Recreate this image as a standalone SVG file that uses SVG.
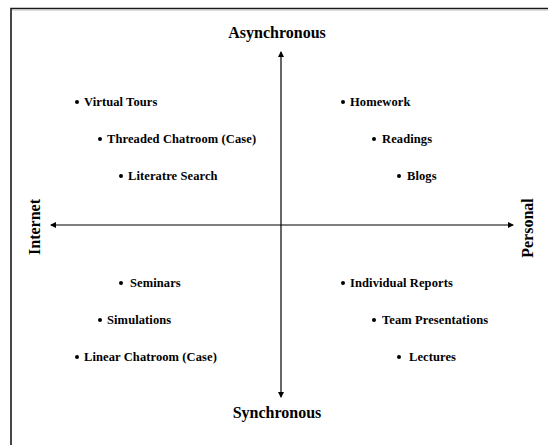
<svg xmlns="http://www.w3.org/2000/svg" width="548" height="445" viewBox="0 0 548 445">
<style>
.t{font-family:"Liberation Serif","Times New Roman",serif;font-weight:bold;fill:#000}
.item{font-size:12.5px;letter-spacing:0.1px}
.axis{font-size:16px}
.ln{stroke:#000;stroke-width:1.2;fill:none}
</style>
<defs>
<marker id="ah" markerWidth="6" markerHeight="6" refX="5" refY="3" orient="auto" markerUnits="userSpaceOnUse">
<path d="M0,0 L6,3 L0,6 Z" fill="#000"/>
</marker>
</defs>
<rect width="548" height="445" fill="#fff"/>
<g id="frame">
<path d="M11,445 V8.5 H548" stroke="#1a1a1a" stroke-width="1.6" fill="none"/>
<path d="M12,10 H548" stroke="#bbb" stroke-width="1" fill="none"/>
</g>
<g id="connectors">
<line class="ln" x1="281" y1="225" x2="281" y2="52" marker-end="url(#ah)"/>
<line class="ln" x1="281" y1="225" x2="281" y2="397" marker-end="url(#ah)"/>
<line class="ln" x1="282" y1="225" x2="51" y2="225" stroke="#333" marker-end="url(#ah)"/>
<line class="ln" x1="282" y1="225" x2="513" y2="225" stroke="#333" marker-end="url(#ah)"/>
</g>
<g id="asynchronous"><text class="t axis" x="277" y="38" text-anchor="middle">Asynchronous</text></g>
<g id="synchronous"><text class="t axis" x="277" y="418" text-anchor="middle">Synchronous</text></g>
<g id="internet"><text class="t axis" transform="translate(40,227) rotate(-90)" text-anchor="middle">Internet</text></g>
<g id="personal"><text class="t axis" transform="translate(533,228) rotate(-90)" text-anchor="middle">Personal</text></g>
<g id="virtual-tours"><circle cx="77" cy="102" r="2"/><text class="t item" x="84" y="106">Virtual Tours</text></g>
<g id="threaded-chatroom"><circle cx="100" cy="139" r="2"/><text class="t item" x="107" y="143">Threaded Chatroom (Case)</text></g>
<g id="literatre-search"><circle cx="121" cy="176" r="2"/><text class="t item" x="128" y="180">Literatre Search</text></g>
<g id="homework"><circle cx="343" cy="102" r="2"/><text class="t item" x="350" y="106">Homework</text></g>
<g id="readings"><circle cx="374" cy="139" r="2"/><text class="t item" x="382" y="143">Readings</text></g>
<g id="blogs"><circle cx="399" cy="176" r="2"/><text class="t item" x="407" y="180">Blogs</text></g>
<g id="seminars"><circle cx="121" cy="283" r="2"/><text class="t item" x="130" y="287">Seminars</text></g>
<g id="simulations"><circle cx="100" cy="320" r="2"/><text class="t item" x="107" y="324">Simulations</text></g>
<g id="linear-chatroom"><circle cx="77" cy="357" r="2"/><text class="t item" x="84" y="361">Linear Chatroom  (Case)</text></g>
<g id="individual-reports"><circle cx="343" cy="283" r="2"/><text class="t item" x="350" y="287">Individual Reports</text></g>
<g id="team-presentations"><circle cx="374" cy="320" r="2"/><text class="t item" x="382" y="324">Team Presentations</text></g>
<g id="lectures"><circle cx="399" cy="357" r="2"/><text class="t item" x="409" y="361">Lectures</text></g>
</svg>
